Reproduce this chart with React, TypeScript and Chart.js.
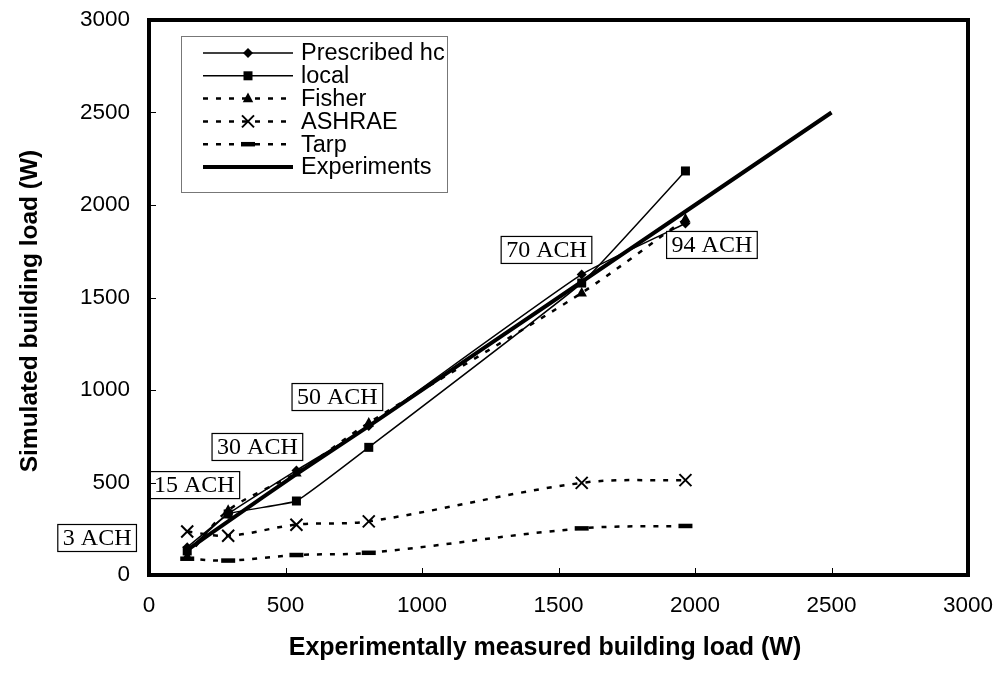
import React, { useEffect, useRef } from "react";
import { Chart, registerables } from "chart.js";

Chart.register(...registerables);

// ---- data ----
const xMeasured = [140, 290, 540, 805, 1585, 1965];
const prescribedHc = [150, 330, 565, 805, 1625, 1900];
const local = [130, 330, 400, 690, 1578, 2184];
const fisher = [100, 350, 552, 822, 1525, 1925];
const ashrae = [235, 212, 272, 290, 498, 513];
const tarp = [88, 78, 108, 120, 252, 265];
const experimentsX = [140, 290, 540, 805, 1585, 1965, 2500];
const experimentsY = [135, 290, 545, 805, 1585, 1965, 2500];
const axisTicks = [0, 500, 1000, 1500, 2000, 2500, 3000];
const annotationLabels = ["3 ACH", "15 ACH", "30 ACH", "50 ACH", "70 ACH", "94 ACH"];
const annotationX = [-190, 166, 397, 690, 1456, 2062];
const annotationY = [200, 486, 692, 962, 1757, 1784];
const legendLabels = ["Prescribed hc", "local", "Fisher", "ASHRAE", "Tarp", "Experiments"];
const xTitle = "Experimentally measured building load (W)";
const yTitle = "Simulated building load (W)";

const SANS = "'Liberation Sans', Arial, sans-serif";
const SERIF = "'Liberation Serif', 'Times New Roman', serif";

type Style = {
  dash: number[];
  width: number;
  marker: string;
  radius: number;
  markerWidth: number;
};

const styles: Style[] = [
  { dash: [], width: 1.5, marker: "rectRot", radius: 5, markerWidth: 1 },
  { dash: [], width: 1.5, marker: "rect", radius: 4.5, markerWidth: 1 },
  { dash: [5, 8], width: 2.5, marker: "triangle", radius: 6, markerWidth: 1 },
  { dash: [5, 8], width: 2.5, marker: "crossRot", radius: 8, markerWidth: 2 },
  { dash: [5, 8], width: 2.5, marker: "line", radius: 7, markerWidth: 4.5 },
  { dash: [], width: 4, marker: "none", radius: 0, markerWidth: 0 },
];

function pts(xs: number[], ys: number[]) {
  return xs.map((x, i) => ({ x, y: ys[i] }));
}

function drawMarker(ctx: CanvasRenderingContext2D, kind: string, x: number, y: number, r: number, w: number) {
  ctx.save();
  ctx.setLineDash([]);
  ctx.fillStyle = "#000";
  ctx.strokeStyle = "#000";
  ctx.lineWidth = w;
  ctx.beginPath();
  if (kind === "rectRot") {
    ctx.moveTo(x, y - r);
    ctx.lineTo(x + r, y);
    ctx.lineTo(x, y + r);
    ctx.lineTo(x - r, y);
    ctx.closePath();
    ctx.fill();
  } else if (kind === "rect") {
    ctx.rect(x - r, y - r, 2 * r, 2 * r);
    ctx.fill();
  } else if (kind === "triangle") {
    ctx.moveTo(x, y - r);
    ctx.lineTo(x + r * 0.87, y + r * 0.6);
    ctx.lineTo(x - r * 0.87, y + r * 0.6);
    ctx.closePath();
    ctx.fill();
  } else if (kind === "crossRot") {
    const d = r * 0.75;
    ctx.moveTo(x - d, y - d);
    ctx.lineTo(x + d, y + d);
    ctx.moveTo(x + d, y - d);
    ctx.lineTo(x - d, y + d);
    ctx.stroke();
  } else if (kind === "line") {
    ctx.moveTo(x - r, y);
    ctx.lineTo(x + r, y);
    ctx.stroke();
  }
  ctx.restore();
}

const framePlugin = {
  id: "framePlugin",
  afterDraw(chart: any) {
    const ctx: CanvasRenderingContext2D = chart.ctx;
    const { left, right, top, bottom } = chart.chartArea;
    const xs = chart.scales.x;
    const ys = chart.scales.y;
    ctx.save();

    // axis titles
    ctx.fillStyle = "#000";
    ctx.textAlign = "center";
    ctx.textBaseline = "middle";
    ctx.font = `bold 25px ${SANS}`;
    ctx.fillText(xTitle, 545, 648);
    ctx.save();
    ctx.translate(30, 311);
    ctx.rotate(-Math.PI / 2);
    ctx.font = `bold 24.5px ${SANS}`;
    ctx.fillText(yTitle, 0, 0);
    ctx.restore();

    // annotation boxes
    ctx.font = `24px ${SERIF}`;
    ctx.textAlign = "center";
    ctx.textBaseline = "middle";
    annotationLabels.forEach((t, i) => {
      const cx = xs.getPixelForValue(annotationX[i]);
      const cy = ys.getPixelForValue(annotationY[i]);
      const w = ctx.measureText(t).width + 10;
      const h = 27;
      ctx.fillStyle = "#fff";
      ctx.fillRect(cx - w / 2, cy - h / 2, w, h);
      ctx.strokeStyle = "#000";
      ctx.lineWidth = 1.2;
      ctx.strokeRect(cx - w / 2, cy - h / 2, w, h);
      ctx.fillStyle = "#000";
      ctx.fillText(t, cx, cy + 1);
    });

    // inward tick marks
    ctx.strokeStyle = "#000";
    ctx.lineWidth = 1;
    axisTicks.forEach((v) => {
      const px = Math.round(xs.getPixelForValue(v)) + 0.5;
      ctx.beginPath();
      ctx.moveTo(px, bottom);
      ctx.lineTo(px, bottom - 7);
      ctx.stroke();
      const py = Math.round(ys.getPixelForValue(v)) + 0.5;
      ctx.beginPath();
      ctx.moveTo(left, py);
      ctx.lineTo(left + 7, py);
      ctx.stroke();
    });

    // frame
    ctx.lineWidth = 4;
    ctx.strokeRect(left, top, right - left, bottom - top);

    // legend
    const lx = 181, ly = 36, lw = 266, lh = 156;
    ctx.fillStyle = "#fff";
    ctx.fillRect(lx, ly, lw, lh);
    ctx.strokeStyle = "#777";
    ctx.lineWidth = 1;
    ctx.strokeRect(lx + 0.5, ly + 0.5, lw, lh);
    ctx.font = `23.5px ${SANS}`;
    ctx.textAlign = "left";
    ctx.textBaseline = "middle";
    legendLabels.forEach((t, i) => {
      const st = styles[i];
      const y = 53 + i * 22.8;
      ctx.strokeStyle = "#000";
      ctx.lineWidth = st.width;
      ctx.setLineDash(st.dash);
      ctx.beginPath();
      ctx.moveTo(203, y);
      ctx.lineTo(293, y);
      ctx.stroke();
      ctx.setLineDash([]);
      if (st.marker !== "none") drawMarker(ctx, st.marker, 248, y, st.radius, st.markerWidth);
      ctx.fillStyle = "#000";
      ctx.fillText(t, 301, y + 1);
    });
    ctx.restore();
  },
};

const markerDrawPlugin = {
  id: "markerDrawPlugin",
  afterDatasetsDraw(chart: any) {
    const ctx: CanvasRenderingContext2D = chart.ctx;
    chart.data.datasets.forEach((ds: any, i: number) => {
      const st = styles[i];
      if (st.marker === "none") return;
      const meta = chart.getDatasetMeta(i);
      meta.data.forEach((el: any) => {
        drawMarker(ctx, st.marker, el.x, el.y, st.radius, st.markerWidth);
      });
    });
  },
};

export default function App() {
  const ref = useRef<HTMLCanvasElement | null>(null);

  useEffect(() => {
    document.body.style.margin = "0";
    const series = [
      pts(xMeasured, prescribedHc),
      pts(xMeasured, local),
      pts(xMeasured, fisher),
      pts(xMeasured, ashrae),
      pts(xMeasured, tarp),
      pts(experimentsX, experimentsY),
    ];
    const tensions = [0.15, 0.1, 0.3, 0.35, 0.35, 0.2];
    const chart = new Chart(ref.current as HTMLCanvasElement, {
      type: "line",
      data: {
        datasets: series.map((d, i) => ({
          label: legendLabels[i],
          data: d,
          borderColor: "#000",
          backgroundColor: "#000",
          borderWidth: styles[i].width,
          borderDash: styles[i].dash,
          pointRadius: 0,
          tension: tensions[i],
          fill: false,
        })),
      },
      options: {
        animation: false,
        responsive: false,
        maintainAspectRatio: false,
        layout: { padding: { top: 20, right: 32, left: 0, bottom: 0 } },
        plugins: {
          legend: { display: false },
          tooltip: { enabled: false },
        },
        scales: {
          x: {
            type: "linear",
            min: 0,
            max: 3000,
            afterFit: (s: any) => {
              s.height = 115;
              s.paddingLeft = 0;
              s.paddingRight = 0;
            },
            afterBuildTicks: (s: any) => {
              s.ticks = axisTicks.map((v) => ({ value: v }));
            },
            grid: { display: false, drawTicks: false },
            border: { display: false },
            ticks: {
              color: "#000",
              font: { family: SANS, size: 22.5 },
              padding: 17,
              maxRotation: 0,
              callback: (v: any) => String(v),
            },
            title: { display: false },
          },
          y: {
            type: "linear",
            min: 0,
            max: 3000,
            afterFit: (s: any) => {
              s.width = 149;
              s.paddingTop = 0;
              s.paddingBottom = 0;
            },
            afterBuildTicks: (s: any) => {
              s.ticks = axisTicks.map((v) => ({ value: v }));
            },
            grid: { display: false, drawTicks: false },
            border: { display: false },
            ticks: {
              color: "#000",
              font: { family: SANS, size: 22.5 },
              padding: 19,
              callback: (v: any) => String(v),
            },
            title: { display: false },
          },
        },
      },
      plugins: [markerDrawPlugin, framePlugin],
    } as any);
    return () => chart.destroy();
  }, []);

  return (
    <div style={{ position: "absolute", left: 0, top: 0, width: 1000, height: 690, background: "#fff" }}>
      <canvas ref={ref} width={1000} height={690} style={{ width: 1000, height: 690 }} />
    </div>
  );
}
